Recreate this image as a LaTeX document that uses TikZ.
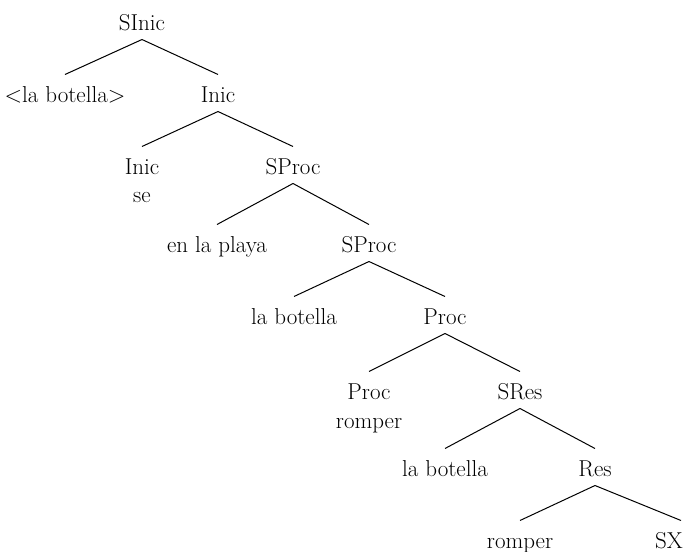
\documentclass[tikz,border=0pt]{standalone}
\usepackage{tikz}

\begin{document}
\begin{tikzpicture}[x=1pt, y=-1pt, line width=1pt,
    every node/.style={inner sep=0pt, anchor=base, text height=27pt, text depth=9pt,
                       font=\fontsize{23}{27}\selectfont}]
            \useasboundingbox (0,0) rectangle (686,552);
            \node (sinic) at (142,30) {SInic};
            \node (labot1) at (65,102) {<la botella>};
            \node (inic) at (218,102) {Inic};
            \node (inich) at (142,174) {Inic};
            \node (se) at (142,202) {se};
            \node (sproc1) at (293,174) {SProc};
            \node (playa) at (217,252) {en la playa};
            \node (sproc2) at (369,252) {SProc};
            \node (labot2) at (294,324) {la botella};
            \node (proc) at (445,324) {Proc};
            \node (proch) at (369,399) {Proc};
            \node (romp1) at (369,428) {romper};
            \node (sres) at (520,399) {SRes};
            \node (labot3) at (445,476) {la botella};
            \node (res) at (595,476) {Res};
            \node (romp2) at (520,548) {romper};
            \node (sx) at (669,548) {SX};
            \foreach \p/\c in {sinic/labot1, sinic/inic, inic/inich, inic/sproc1,
                               sproc1/playa, sproc1/sproc2, sproc2/labot2, sproc2/proc,
                               proc/proch, proc/sres, sres/labot3, sres/res, res/romp2}
                \draw (\p.south) -- (\c.north);
            \draw (res.south) -- ([xshift=12pt]sx.north);
        \end{tikzpicture}
\end{document}
